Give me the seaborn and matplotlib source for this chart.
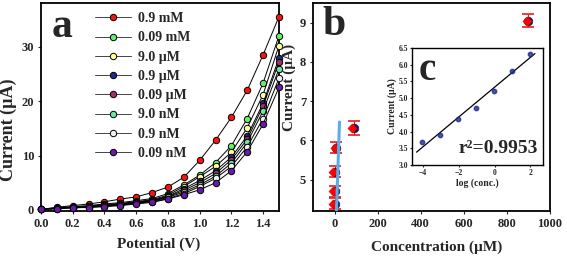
"""
Recreate: I-V curves (a), current vs concentration (b) with log calibration inset (c)
"""
import numpy as np
import pandas as pd
import matplotlib
matplotlib.use('Agg')
import matplotlib.pyplot as plt
import matplotlib.transforms as mtrans
import seaborn as sns

# ---- data ----
potential = [0.0, 0.1, 0.2, 0.3, 0.4, 0.5, 0.6, 0.7, 0.8, 0.9, 1.0, 1.1, 1.2, 1.3, 1.4, 1.5]
labels = ['0.9 mM', '0.09 mM', '9.0 µM', '0.9 µM', '0.09 µM', '9.0 nM', '0.9 nM', '0.09 nM']
colors = ['#ff1010', '#66ee66', '#ffff99', '#1c2a8c', '#a0306a', '#66e8a0', '#f0f0f0', '#6a1aa8']
i_09mM = [0.1, 0.5, 0.8, 1.1, 1.5, 2.0, 2.4, 3.2, 4.2, 6.0, 9.1, 12.8, 17.0, 22.0, 28.5, 35.5]
i_009mM = [0.1, 0.4, 0.6, 0.8, 1.1, 1.35, 1.7, 2.1, 3.0, 4.6, 6.4, 8.7, 11.8, 16.8, 23.3, 32.0]
i_9uM = [0.1, 0.35, 0.55, 0.7, 0.95, 1.2, 1.5, 1.9, 2.7, 4.3, 6.1, 8.0, 10.6, 15.1, 21.2, 30.2]
i_09uM = [0.1, 0.3, 0.5, 0.65, 0.85, 1.1, 1.4, 1.8, 2.5, 3.9, 5.4, 7.2, 9.7, 13.6, 19.6, 27.9]
i_009uM = [0.1, 0.3, 0.5, 0.6, 0.8, 1.0, 1.3, 1.7, 2.4, 3.6, 5.0, 6.7, 9.2, 13.0, 19.1, 27.2]
i_9nM = [0.1, 0.3, 0.45, 0.55, 0.75, 0.95, 1.25, 1.6, 2.3, 3.3, 4.6, 6.2, 8.6, 12.4, 18.2, 25.9]
i_09nM = [0.1, 0.25, 0.4, 0.5, 0.7, 0.9, 1.2, 1.5, 2.1, 3.0, 4.3, 5.8, 8.0, 11.6, 16.8, 24.2]
i_009nM = [0.1, 0.25, 0.4, 0.45, 0.6, 0.8, 1.1, 1.4, 2.0, 2.8, 3.7, 5.0, 7.2, 10.7, 15.8, 22.5]
curves = [i_09mM, i_009mM, i_9uM, i_09uM, i_009uM, i_9nM, i_09nM, i_009nM]

conc_uM = [0.00009, 0.0009, 0.009, 0.09, 0.9, 9.0, 90.0, 900.0]
current_uA = [3.69, 3.91, 4.38, 4.70, 5.20, 5.81, 6.32, 9.05]
current_err = [0.12, 0.12, 0.14, 0.14, 0.14, 0.14, 0.17, 0.16]
lowfit_x = [9, 23]
lowfit_y = [4.2, 6.47]
r2_text = 'r²=0.9953'

# ---- style ----
sns.set_theme(style='ticks')
plt.rcParams['font.family'] = ['Liberation Serif', 'DejaVu Serif']
plt.rcParams['font.weight'] = 'bold'
plt.rcParams['axes.labelweight'] = 'bold'

fig = plt.figure(figsize=(5.67, 2.58), dpi=100)
ax_a = fig.add_axes([0.0723, 0.182, 0.4197, 0.806])
ax_b = fig.add_axes([0.552, 0.182, 0.418, 0.806])
ax_c = fig.add_axes([0.7266, 0.3605, 0.231, 0.4535])


def frame(ax, lw=1.3, size=8):
    for s in ax.spines.values():
        s.set_visible(True)
        s.set_linewidth(lw)
        s.set_color('black')
    ax.tick_params(direction='out', length=2, width=0.8, labelsize=size, pad=3)
    for t in ax.get_xticklabels() + ax.get_yticklabels():
        t.set_fontweight('bold')


# ---- panel a ----
for lab, col, cur in zip(labels, colors, curves):
    df = pd.DataFrame({'Potential': potential, 'Current': cur})
    sns.lineplot(data=df, x='Potential', y='Current', ax=ax_a, color='black', lw=0.7,
                 marker='o', markersize=4.6, markerfacecolor=col, markeredgecolor='black',
                 markeredgewidth=0.7, label=lab, clip_on=False, zorder=3)
ax_a.set_xlim(0, 1.5)
ax_a.set_ylim(-0.2, 38)
ax_a.set_xticks(np.arange(0, 1.41, 0.2))
ax_a.set_xticklabels([f'{v:.1f}' for v in np.arange(0, 1.41, 0.2)])
ax_a.set_yticks([0, 10, 20, 30])
ax_a.set_xlabel('Potential (V)', fontsize=11, fontweight='bold')
ax_a.set_ylabel('Current (µA)', fontsize=13, fontweight='bold')
ax_a.xaxis.set_label_coords(0.496, -0.125)
ax_a.yaxis.set_label_coords(-0.1, 0.39)
frame(ax_a, size=9)
leg = ax_a.legend(loc='upper left', bbox_to_anchor=(0.19, 1.0), frameon=False,
                  prop={'family': 'Liberation Serif', 'weight': 'bold', 'size': 10},
                  handlelength=2.6, handletextpad=0.5, labelspacing=0.45, borderaxespad=0.25)
for h in leg.legend_handles:
    h.set_color('#444444')
    h.set_markeredgecolor('black')
ax_a.text(0.045, 0.835, 'a', transform=ax_a.transAxes, fontsize=30, fontweight='bold')

# ---- panel b ----
shift = mtrans.ScaledTranslation(-1.5 / 100, 0, fig.dpi_scale_trans)
ax_b.errorbar(conc_uM, current_uA, yerr=current_err, fmt='none', ecolor='#e02020',
              elinewidth=0.9, capsize=4, capthick=1.2, zorder=2)
sns.scatterplot(x=conc_uM, y=current_uA, ax=ax_b, marker='o', s=38, color='#101860',
                edgecolor='#101860', zorder=3)
sns.scatterplot(x=conc_uM, y=current_uA, ax=ax_b, marker='D', s=22, color='#ff0000',
                edgecolor='#ff0000', zorder=4, transform=ax_b.transData + shift)
sns.lineplot(x=lowfit_x, y=lowfit_y, ax=ax_b, color='#5aaee8', lw=2.2, zorder=5)
ax_b.set_xlim(-100, 1000)
ax_b.set_ylim(4.2, 9.5)
ax_b.set_xticks([0, 200, 400, 600, 800, 1000])
ax_b.set_yticks([5, 6, 7, 8, 9])
ax_b.set_xlabel('Concentration (µM)', fontsize=11, fontweight='bold')
ax_b.set_ylabel('Current (µA)', fontsize=11, fontweight='bold')
ax_b.xaxis.set_label_coords(0.52, -0.14)
ax_b.yaxis.set_label_coords(-0.072, 0.594)
frame(ax_b, size=9)
ax_b.text(0.04, 0.845, 'b', transform=ax_b.transAxes, fontsize=30, fontweight='bold')

# ---- inset c ----
log_c = np.log10(conc_uM[:7])
sns.regplot(x=log_c, y=current_uA[:7], ax=ax_c, ci=None, truncate=False,
            scatter_kws={'s': 10, 'color': '#1c2a8c', 'zorder': 3},
            line_kws={'color': 'black', 'lw': 0.9})
ax_c.set_xlim(-4.6, 2.7)
ax_c.set_ylim(3.0, 6.5)
ax_c.set_xticks([-4, -2, 0, 2])
ax_c.set_yticks(np.arange(3.0, 6.51, 0.5))
ax_c.set_yticklabels([f'{v:.1f}' for v in np.arange(3.0, 6.51, 0.5)])
ax_c.set_xlabel('log (conc.)', fontsize=7, fontweight='bold', labelpad=1)
ax_c.set_ylabel('Current (µA)', fontsize=7, fontweight='bold', labelpad=1)
frame(ax_c, lw=1.0, size=5.5)
ax_c.tick_params(length=1.5, pad=1.5)
ax_c.text(0.05, 0.73, 'c', transform=ax_c.transAxes, fontsize=28, fontweight='bold')
ax_c.text(0.96, 0.1, r2_text, transform=ax_c.transAxes, fontsize=14, fontweight='bold',
          ha='right')

fig.savefig('out.png', dpi=100)
